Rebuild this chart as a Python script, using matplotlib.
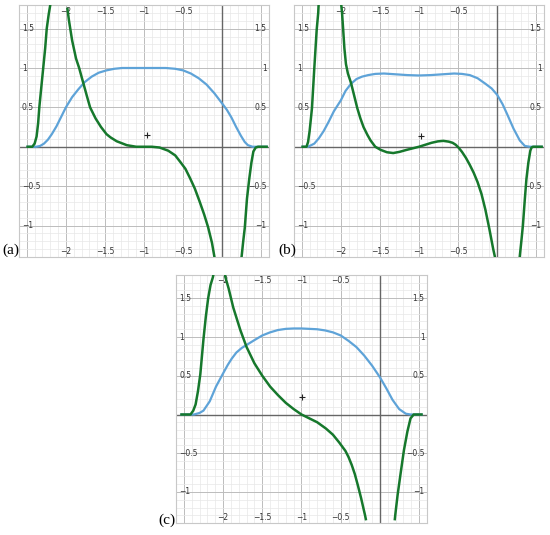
import numpy as np
import matplotlib.pyplot as plt

nan = np.nan

# axis tick labels (same for all three panels)
x_ticks = [-2, -1.5, -1, -0.5]
x_tick_labels = ['\u22122', '\u22121.5', '\u22121', '\u22120.5']
y_ticks = [1.5, 1, 0.5, -0.5, -1]
y_tick_labels = ['1.5', '1', '0.5', '\u22120.5', '\u22121']

# ---- panel (a)
a_blue_x = [-2.49, -2.38, -2.33, -2.28, -2.23, -2.18, -2.12, -2.06, -2.0, -1.92, -1.84, -1.76,
            -1.67, -1.58, -1.48, -1.38, -1.28, -1.0, -0.72, -0.6, -0.5, -0.4, -0.3, -0.2, -0.1,
            0.0, 0.06, 0.12, 0.18, 0.24, 0.29, 0.33, 0.39, 0.57]
a_blue_y = [0, 0, 0.01, 0.04, 0.09, 0.16, 0.26, 0.38, 0.5, 0.63, 0.73, 0.82,
            0.89, 0.94, 0.97, 0.99, 1.0, 1.0, 1.0, 0.99, 0.97, 0.93, 0.87, 0.79, 0.68,
            0.55, 0.47, 0.37, 0.25, 0.14, 0.06, 0.02, 0, 0]
a_green_x = [-2.49, -2.43, -2.40, -2.375, -2.355, -2.34, -2.315, -2.29, -2.265, -2.245, -2.22, -2.2,
             nan,
             -1.98, -1.96, -1.92, -1.87, -1.83, -1.78, -1.73, -1.69, -1.62, -1.55, -1.48, -1.43,
             -1.35, -1.22, -1.1, -0.9, -0.8, -0.69, -0.6, -0.53, -0.47, -0.41, -0.35, -0.29,
             -0.23, -0.18, -0.13, -0.1, -0.09,
             nan,
             0.24, 0.25, 0.27, 0.29, 0.318, 0.347, 0.375, 0.4, 0.43, 0.46, 0.57]
a_green_y = [0, 0, 0.04, 0.13, 0.3, 0.5, 0.75, 1.0, 1.25, 1.5, 1.68, 1.8,
             nan,
             1.75, 1.6, 1.35, 1.12, 1.0, 0.82, 0.64, 0.5, 0.36, 0.25, 0.16, 0.12,
             0.07, 0.02, 0.0, 0.0, -0.01, -0.05, -0.11, -0.2, -0.28, -0.4, -0.53, -0.69,
             -0.86, -1.02, -1.22, -1.39, -1.45,
             nan,
             -1.45, -1.39, -1.2, -1.03, -0.66, -0.41, -0.2, -0.06, -0.01, 0, 0]
a_plus = (-0.96, 0.15)

# ---- panel (b)
b_blue_x = [-2.49, -2.42, -2.34, -2.28, -2.22, -2.16, -2.09, -2.0, -1.94, -1.87, -1.8, -1.73,
            -1.65, -1.56, -1.45, -1.3, -1.15, -1.0, -0.85, -0.7, -0.55, -0.45, -0.35, -0.25,
            -0.15, -0.07, 0.0, 0.07, 0.13, 0.21, 0.29, 0.355, 0.42, 0.57]
b_blue_y = [0, 0, 0.04, 0.11, 0.2, 0.31, 0.45, 0.59, 0.71, 0.8, 0.86, 0.89,
            0.91, 0.925, 0.93, 0.92, 0.91, 0.905, 0.91, 0.92, 0.93, 0.925, 0.91, 0.87,
            0.8, 0.74, 0.66, 0.54, 0.41, 0.23, 0.08, 0.01, 0, 0]
b_green_x = [-2.49, -2.44, -2.42, -2.4, -2.37, -2.34, -2.31, -2.29, -2.285,
             nan,
             -1.995, -1.985, -1.97, -1.955, -1.935, -1.91, -1.87, -1.83, -1.79, -1.75, -1.71,
             -1.66, -1.62, -1.56, -1.49, -1.41, -1.33, -1.25, -1.16, -1.08, -1.0, -0.92, -0.84,
             -0.76, -0.69, -0.62, -0.57, -0.53, -0.49, -0.45, -0.4, -0.35, -0.3, -0.25, -0.2,
             -0.15, -0.1, -0.05, -0.03, -0.02,
             nan,
             0.285, 0.29, 0.31, 0.33, 0.355, 0.375, 0.4, 0.425, 0.44, 0.46, 0.57]
b_green_y = [0, 0, 0.06, 0.2, 0.49, 1.0, 1.48, 1.7, 1.8,
             nan,
             1.8, 1.7, 1.48, 1.25, 1.05, 0.93, 0.81, 0.65, 0.49, 0.36, 0.25,
             0.15, 0.08, 0.0, -0.04, -0.07, -0.08, -0.065, -0.04, -0.02, 0.0, 0.025, 0.05,
             0.068, 0.075, 0.065, 0.05, 0.025, -0.015, -0.065, -0.14, -0.23, -0.33, -0.45, -0.6,
             -0.8, -1.04, -1.3, -1.39, -1.45,
             nan,
             -1.45, -1.39, -1.2, -1.0, -0.66, -0.41, -0.2, -0.05, -0.01, 0, 0]
b_plus = (-0.97, 0.14)

# ---- panel (c)
c_blue_x = [-2.53, -2.37, -2.3, -2.25, -2.17, -2.09, -2.0, -1.94, -1.89, -1.83, -1.76, -1.68, -1.6,
            -1.5, -1.4, -1.3, -1.2, -1.1, -1.0, -0.9, -0.8, -0.7, -0.6, -0.5, -0.4, -0.3, -0.2,
            -0.1, 0.0, 0.08, 0.16, 0.245, 0.33, 0.39, 0.53]
c_blue_y = [0, 0, 0.02, 0.05, 0.17, 0.36, 0.53, 0.64, 0.72, 0.8, 0.86, 0.91, 0.96,
            1.02, 1.06, 1.09, 1.105, 1.11, 1.11, 1.105, 1.1, 1.085, 1.06, 1.02, 0.95, 0.87, 0.76,
            0.63, 0.48, 0.34, 0.19, 0.07, 0.01, 0, 0]
c_green_x = [-2.53, -2.415, -2.38, -2.35, -2.32, -2.29, -2.25, -2.22, -2.19, -2.16, -2.13, -2.12,
             nan,
             -1.975, -1.97, -1.93, -1.87, -1.78, -1.7, -1.6, -1.5, -1.4, -1.3, -1.2, -1.1,
             -1.0, -0.9, -0.8, -0.69, -0.6, -0.52, -0.44, -0.4, -0.36, -0.32, -0.28, -0.24,
             -0.19, -0.18,
             nan,
             0.19, 0.195, 0.225, 0.265, 0.306, 0.35, 0.39, 0.43, 0.53]
c_green_y = [0, 0, 0.05, 0.13, 0.3, 0.52, 0.97, 1.26, 1.5, 1.67, 1.77, 1.82,
             nan,
             1.82, 1.77, 1.63, 1.38, 1.09, 0.87, 0.66, 0.5, 0.36, 0.25, 0.15, 0.07,
             0.0, -0.05, -0.1, -0.18, -0.26, -0.36, -0.47, -0.55, -0.65, -0.77, -0.92, -1.08,
             -1.3, -1.35,
             nan,
             -1.35, -1.3, -1.04, -0.75, -0.46, -0.22, -0.05, 0, 0]
c_plus = (-0.99, 0.22)

BLUE = '#5ea3d8'
GREEN = '#16782c'

fig = plt.figure(figsize=(5.5, 5.35), dpi=100)


def panel(rect, xlim, ylim, bx, by, gx, gy, plus):
    ax = fig.add_axes(rect)
    ax.set_xlim(*xlim)
    ax.set_ylim(*ylim)
    ax.set_xticks(np.arange(-2.5, 0.51, 0.5))
    ax.set_yticks(np.arange(-1.0, 1.51, 0.5))
    ax.set_xticks(np.arange(-2.6, 0.61, 0.1), minor=True)
    ax.set_yticks(np.arange(-1.4, 1.81, 0.1), minor=True)
    ax.grid(which='minor', color='#e8e8e8', lw=0.5)
    ax.grid(which='major', color='#bcbcbc', lw=0.7)
    ax.tick_params(which='both', length=0, labelbottom=False, labelleft=False)
    ax.set_axisbelow(True)
    for s in ax.spines.values():
        s.set_color('#c8c8c8')
        s.set_linewidth(0.8)
    ax.axhline(0, color='#666666', lw=1.0, zorder=1)
    ax.axvline(0, color='#666666', lw=1.0, zorder=1)

    # labels drawn inside the frame, like graph paper
    for t, lab in zip(x_ticks, x_tick_labels):
        ax.text(t, 0.976, lab, transform=ax.get_xaxis_transform(), ha='center', va='center',
                fontsize=5.5, color='#333333')
        ax.text(t, 0.022, lab, transform=ax.get_xaxis_transform(), ha='center', va='center',
                fontsize=5.5, color='#333333')
    for t, lab in zip(y_ticks, y_tick_labels):
        ax.text(0.012, t, lab, transform=ax.get_yaxis_transform(), ha='left', va='center',
                fontsize=5.5, color='#333333')
        ax.text(0.99, t, lab, transform=ax.get_yaxis_transform(), ha='right', va='center',
                fontsize=5.5, color='#333333')

    ax.plot(bx, by, color=BLUE, lw=1.6, zorder=3, solid_joinstyle='round')
    ax.plot(gx, gy, color=GREEN, lw=1.8, zorder=4, solid_joinstyle='round')
    ax.plot([plus[0]], [plus[1]], marker='+', color='#222222', ms=5, mew=0.8, zorder=5)
    return ax


panel([19 / 550, 1 - 257 / 535, 250 / 550, 252 / 535], (-2.49, 0.57), (-1.39, 1.71),
      a_blue_x, a_blue_y, a_green_x, a_green_y, a_plus)
panel([294 / 550, 1 - 257 / 535, 250 / 550, 252 / 535], (-2.49, 0.57), (-1.39, 1.71),
      b_blue_x, b_blue_y, b_green_x, b_green_y, b_plus)
panel([176 / 550, 1 - 523 / 535, 251 / 550, 248 / 535], (-2.53, 0.53), (-1.28, 1.77),
      c_blue_x, c_blue_y, c_green_x, c_green_y, c_plus)

fig.text(2 / 550, 1 - 250 / 535, '(a)', family='Liberation Serif', fontsize=11, va='center')
fig.text(278 / 550, 1 - 250 / 535, '(b)', family='Liberation Serif', fontsize=11, va='center')
fig.text(158 / 550, 1 - 520 / 535, '(c)', family='Liberation Serif', fontsize=11, va='center')

fig.savefig('out.png', dpi=100)
